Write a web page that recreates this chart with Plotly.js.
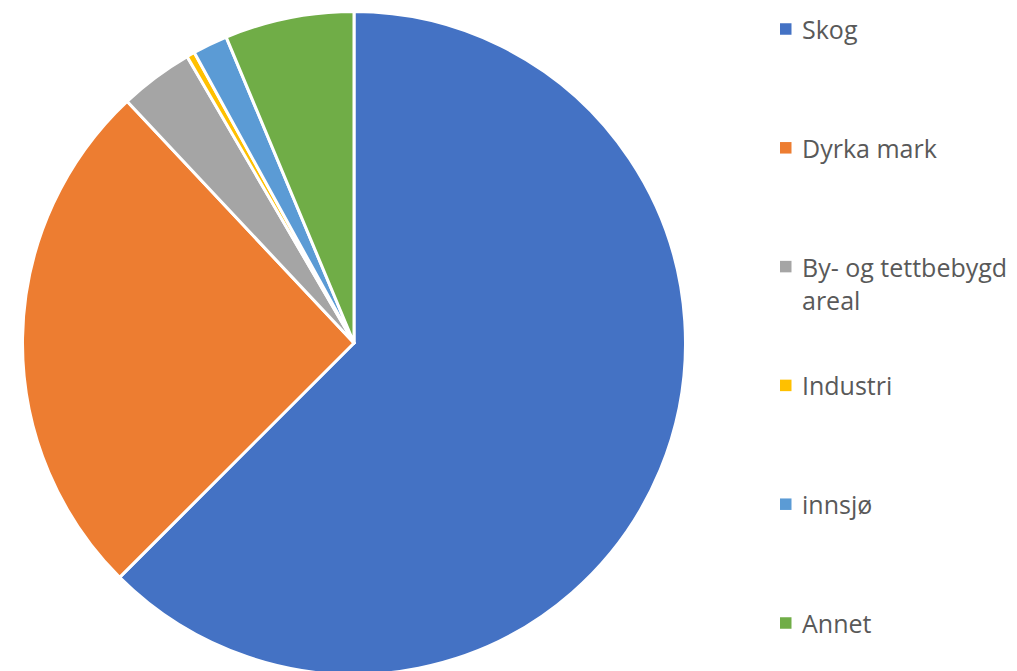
<!DOCTYPE html>
<html>
<head>
<meta charset="utf-8">
<script src="https://cdn.plot.ly/plotly-3.0.1.min.js"></script>
<style>html,body{margin:0;padding:0;background:#fff;overflow:hidden;}#chart{width:1017px;height:680px;}</style>
</head>
<body>
<div id="chart"></div>
<script>
const categories = ["Skog", "Dyrka mark", "By- og tettbebygd areal", "Industri", "innsjø", "Annet"];
const legendLabels = ["Skog", "Dyrka mark", "By- og tettbebygd<br>areal", "Industri", "innsjø", "Annet"];
const values = [62.5, 25.5, 3.6, 0.4, 1.7, 6.3];
const colors = ["#4472C4", "#ED7D31", "#A5A5A5", "#FFC000", "#5B9BD5", "#70AD47"];

const W = 1017, H = 680;
const cx = 354, cy = 343, r = 331.5;

const trace = {
  type: "pie",
  labels: categories,
  values: values,
  marker: { colors: colors, line: { color: "#ffffff", width: 3 } },
  sort: false,
  direction: "clockwise",
  rotation: 0,
  textinfo: "none",
  hoverinfo: "label+percent",
  showlegend: false,
  domain: { x: [(cx - r) / W, (cx + r) / W], y: [(H - cy - r) / H, (H - cy + r) / H] }
};

const annotations = [];
const shapes = [];
const firstY = 29, step = 118.8, lineGap = 33;
const textX = 800, sqX0 = 780, sqSize = 11.5;
legendLabels.forEach((lab, i) => {
  const y = firstY + i * step;
  const nLines = lab.split("<br>").length;
  const centerY = y + (nLines - 1) * lineGap / 2;
  annotations.push({
    xref: "paper", yref: "paper",
    x: textX / W, y: 1 - centerY / H,
    xanchor: "left", yanchor: "middle", align: "left",
    text: lab, showarrow: false,
    font: { family: "'Open Sans', Lato, sans-serif", size: 25, color: "#595959" }
  });
  shapes.push({
    type: "rect", xref: "paper", yref: "paper",
    x0: sqX0 / W, x1: (sqX0 + sqSize) / W,
    y0: 1 - (y + sqSize / 2) / H, y1: 1 - (y - sqSize / 2) / H,
    fillcolor: colors[i], line: { width: 0 }
  });
});

const layout = {
  width: W, height: H,
  margin: { l: 0, r: 0, t: 0, b: 0 },
  paper_bgcolor: "#ffffff",
  plot_bgcolor: "#ffffff",
  showlegend: false,
  annotations: annotations,
  shapes: shapes
};

Plotly.newPlot("chart", [trace], layout, { displayModeBar: false, staticPlot: true });
</script>
</body>
</html>
